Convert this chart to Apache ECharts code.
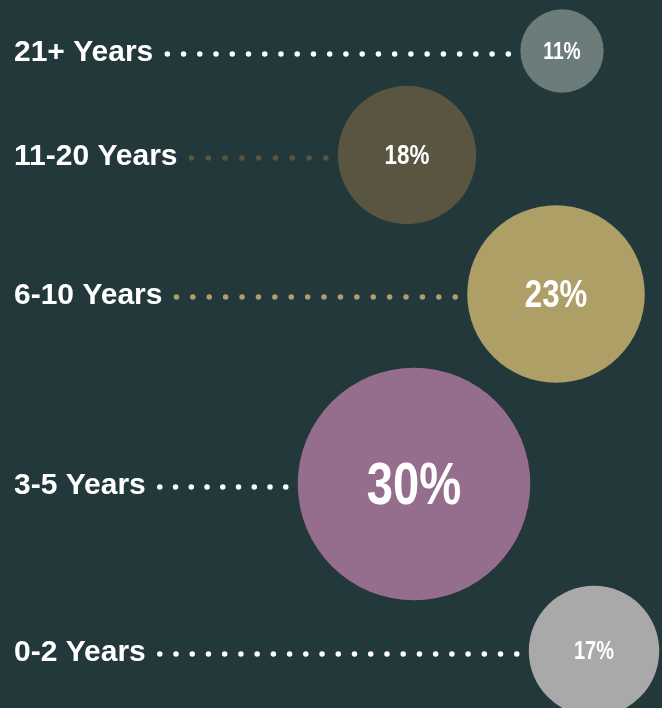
<!DOCTYPE html>
<html>
<head>
<meta charset="utf-8">
<script src="https://cdn.jsdelivr.net/npm/echarts@6/dist/echarts.min.js"></script>
<style>
  html, body { margin: 0; padding: 0; background: #23383a; }
  #c { width: 662px; height: 708px; }
</style>
</head>
<body>
<div id="c"></div>
<script>
// ---- data ----
const categories = ['21+ Years', '11-20 Years', '6-10 Years', '3-5 Years', '0-2 Years'];
const shares = [11, 18, 23, 30, 17];

// ---- layout / style (not data) ----
const bubbleX = [562, 407, 556, 414, 594];
const rowY = [51, 155, 294, 484, 651];
const bubbleColors = ['#6b7c7a', '#5a5541', '#ad9f66', '#956e8e', '#a9a9a9'];
const dotColors = ['#ffffff', '#5a5541', '#ad9f66', '#ffffff', '#ffffff'];
const pctFontSize = [24, 28, 39, 59, 25];

const LABEL_FONT = '"Liberation Sans", Arial, Helvetica, sans-serif';
const PCT_FONT = '"Liberation Sans", Arial, sans-serif';
const LABEL_SIZE = 30;
const LABEL_X = 14;
const diam = v => v * 7.85 - 3;

const mctx = document.createElement('canvas').getContext('2d');
mctx.font = 'bold ' + LABEL_SIZE + 'px ' + LABEL_FONT;

const chart = echarts.init(document.getElementById('c'), null, { renderer: 'canvas' });

const series = [];

// dotted leader lines
categories.forEach((cat, i) => {
  const w = mctx.measureText(cat).width;
  const x1 = LABEL_X + w + 14;
  const x2 = bubbleX[i] - diam(shares[i]) / 2 - 12;
  const n = Math.max(1, Math.round((x2 - x1) / 16.5));
  const gap = (x2 - x1) / n;
  series.push({
    type: 'line',
    data: [[x1, rowY[i] + 3], [x2 + 0.02, rowY[i] + 3]],
    symbol: 'none',
    silent: true,
    lineStyle: { color: dotColors[i], width: 5.5, type: [0.01, gap - 0.01], cap: 'round' },
    z: 1
  });
});

// bubbles
series.push({
  type: 'scatter',
  symbol: 'circle',
  symbolSize: val => diam(val[2]),
  z: 2,
  data: shares.map((v, i) => ({
    value: [bubbleX[i], rowY[i], v],
    itemStyle: { color: bubbleColors[i], opacity: 1 }
  })),
  label: { show: false },
  emphasis: { disabled: true }
});

// percentage labels (condensed)
series.push({
  type: 'custom',
  z: 3,
  silent: true,
  data: shares.map((v, i) => [bubbleX[i], rowY[i], v, i]),
  renderItem: (params, api) => {
    const pt = api.coord([api.value(0), api.value(1)]);
    const idx = api.value(3);
    const fs = pctFontSize[idx];
    return {
      type: 'text',
      x: pt[0],
      y: pt[1] + fs * 0.06,
      scaleX: 0.8,
      style: {
        text: api.value(2) + '%',
        fill: '#ffffff',
        font: 'bold ' + fs + 'px ' + PCT_FONT,
        align: 'center',
        verticalAlign: 'middle'
      }
    };
  }
});

// category labels
series.push({
  type: 'scatter',
  symbolSize: 0,
  z: 4,
  itemStyle: { opacity: 1 },
  data: categories.map((c, i) => ({ value: [LABEL_X, rowY[i] + 2], name: c })),
  label: {
    show: true,
    position: 'right',
    distance: 0,
    align: 'left',
    verticalAlign: 'middle',
    formatter: p => p.name,
    color: '#ffffff',
    opacity: 1,
    fontSize: LABEL_SIZE,
    fontWeight: 'bold',
    fontFamily: LABEL_FONT
  },
  emphasis: { disabled: true }
});

chart.setOption({
  backgroundColor: '#23383a',
  animation: false,
  grid: { left: 0, right: 0, top: 0, bottom: 0 },
  xAxis: { type: 'value', min: 0, max: 662, show: false },
  yAxis: { type: 'value', min: 0, max: 708, inverse: true, show: false },
  series: series
});
</script>
</body>
</html>
